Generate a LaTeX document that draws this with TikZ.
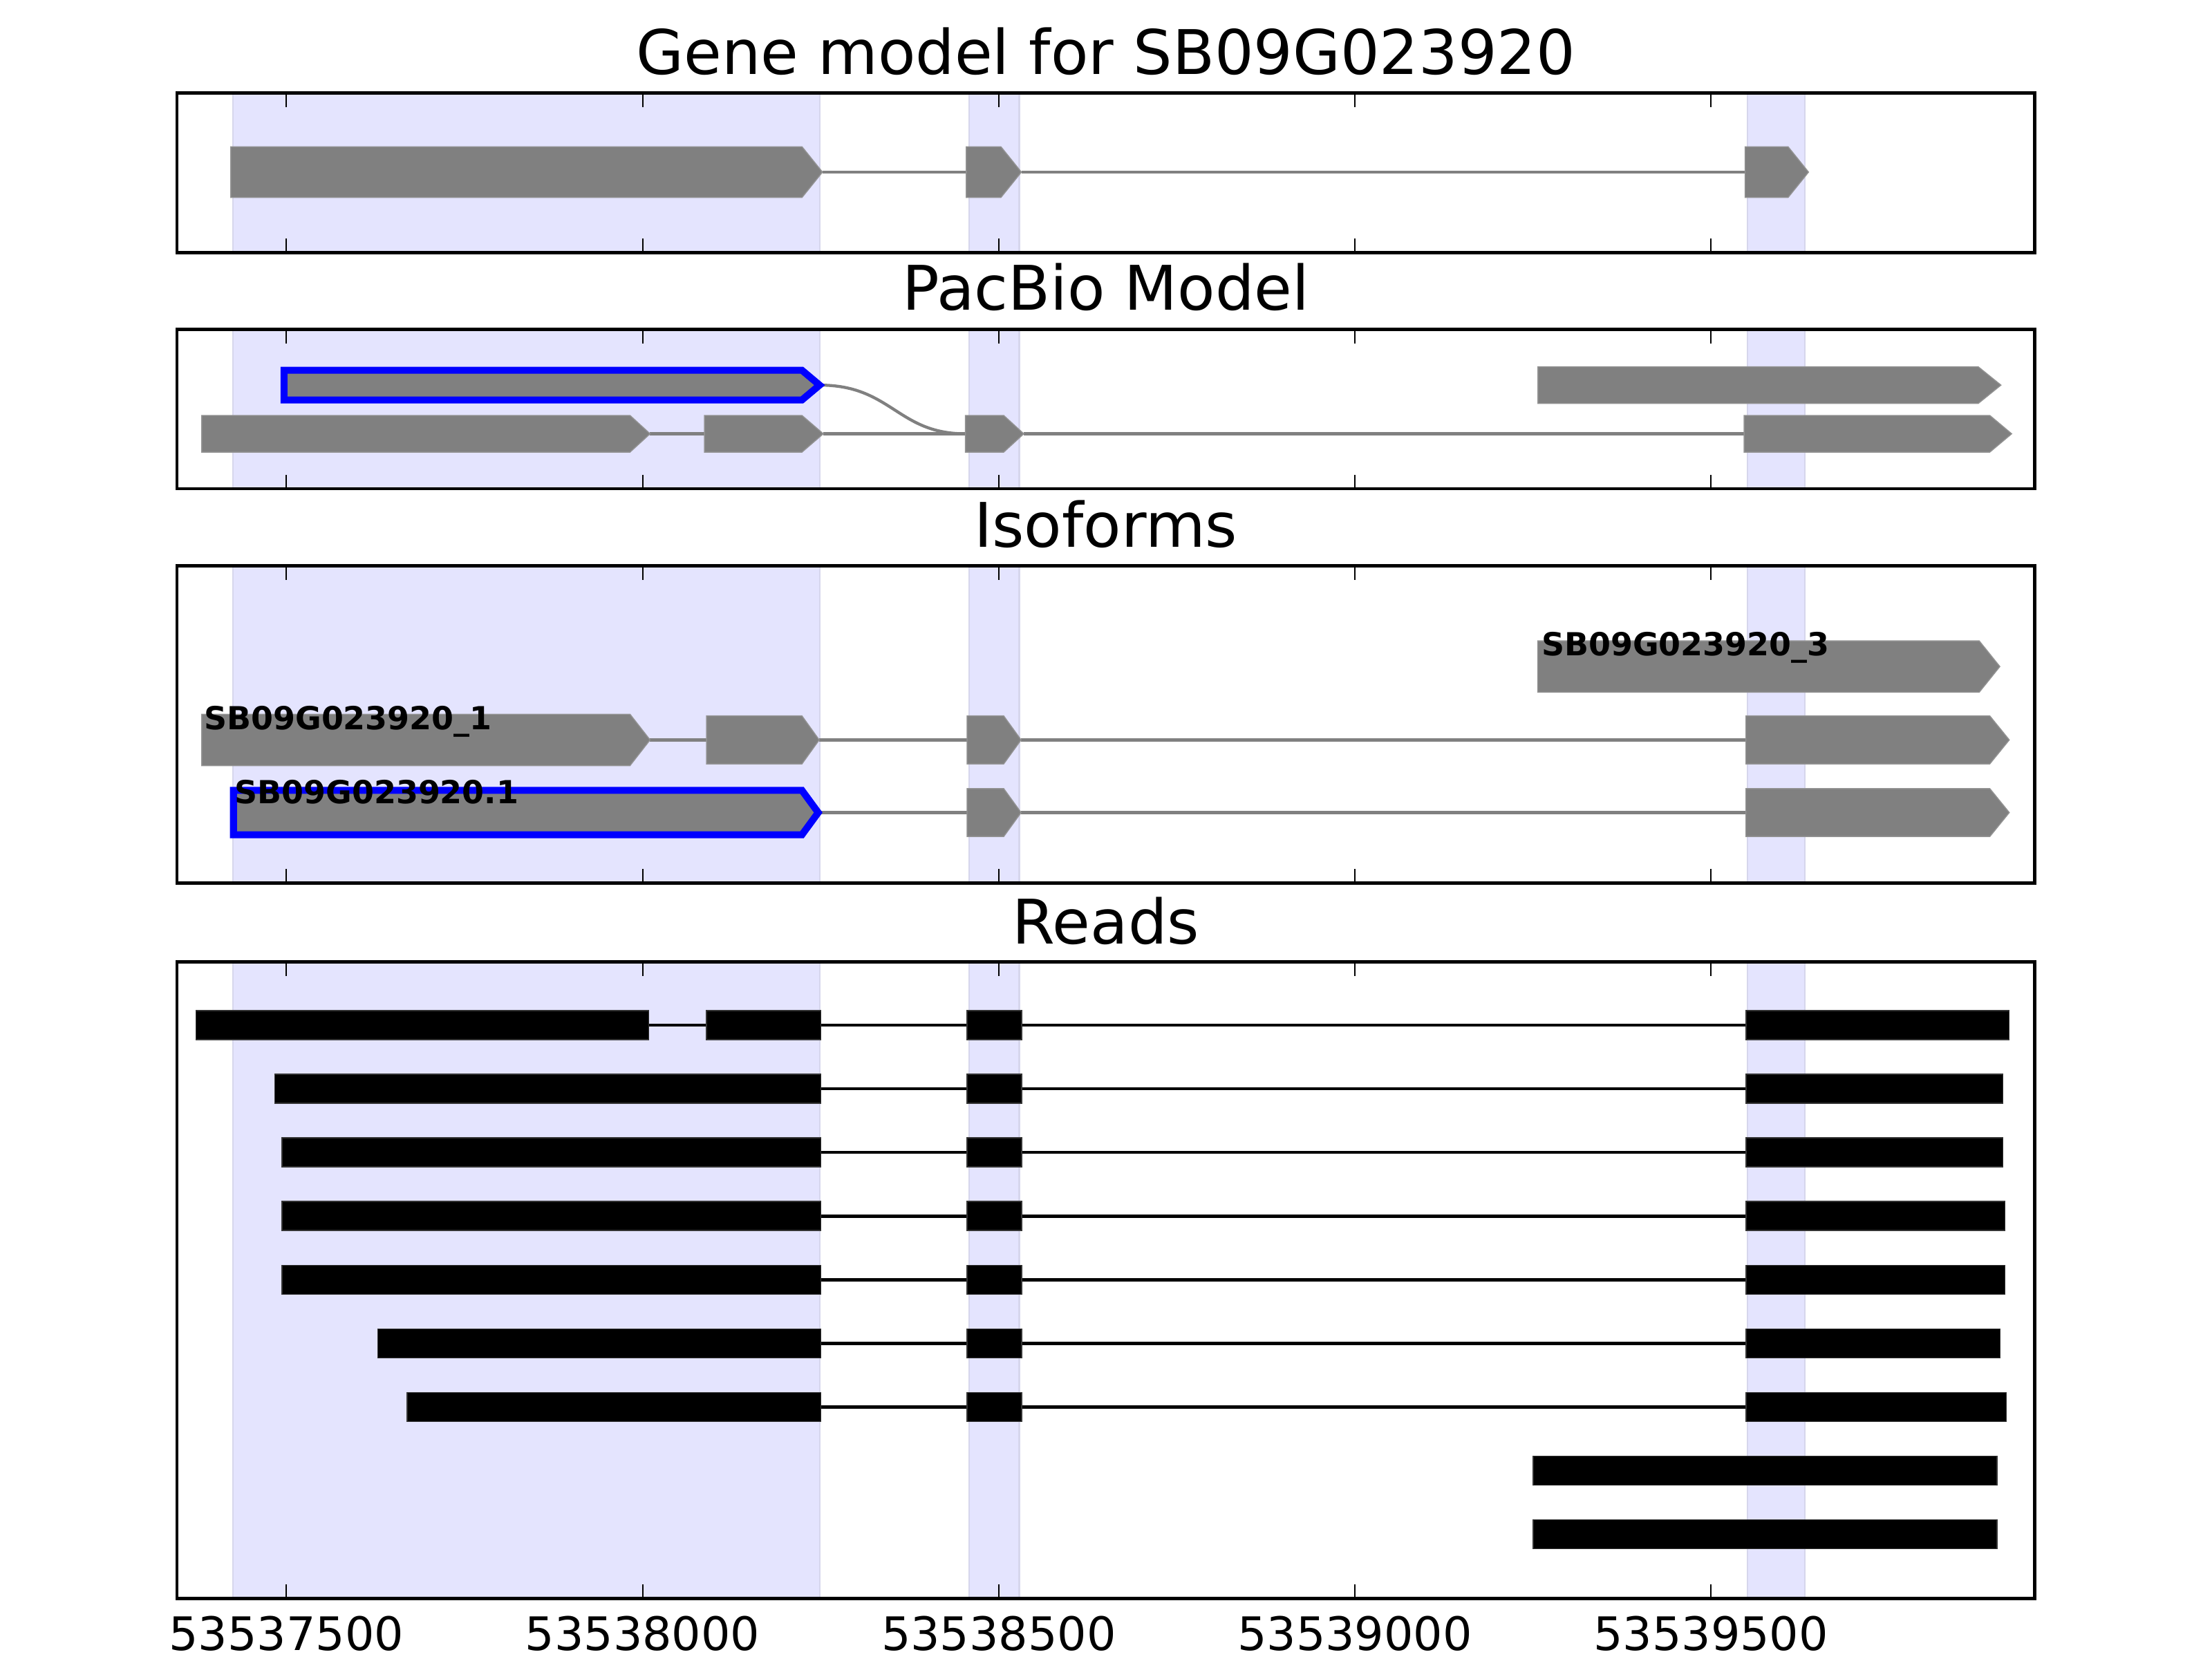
\documentclass[tikz,border=0pt]{standalone}
\usepackage{fontspec}
\setmainfont{DejaVu Sans}

\definecolor{bandblue}{RGB}{228,228,254}
\definecolor{bandedge}{RGB}{214,214,236}
\definecolor{exongray}{RGB}{128,128,128}
\definecolor{isoblue}{RGB}{0,0,255}

\tikzset{
  frame/.style={line width=0.65pt},
  tickmark/.style={line width=0.3pt},
  band/.style={fill=bandblue, draw=bandedge, line width=0.3pt},
  exon/.style={fill=exongray, draw=exongray!85!white, line width=0.2pt},
  intron/.style={draw=exongray, line width=0.6pt},
  picked/.style={draw=isoblue, line width=1.4pt},
  readbar/.style={fill=black, draw=black!80!white, line width=0.2pt},
  readline/.style={line width=0.65pt},
  paneltitle/.style={font=\fontsize{12.4}{14}\selectfont, anchor=base, inner sep=0pt},
  ticklabel/.style={font=\fontsize{9.3}{11}\selectfont, anchor=base, inner sep=0pt},
  isolabel/.style={font=\fontsize{6.4}{8}\selectfont\bfseries, anchor=base west, inner sep=0pt}
}

% arrow shaped exon: [opts]{left}{body end}{tip}{y}{half height}
\newcommand{\exonarrow}[6][]{%
  \filldraw[exon,#1] (#2,#5-#6) -- (#3,#5-#6) -- (#4,#5) -- (#3,#5+#6) -- (#2,#5+#6) -- cycle;}

% shaded exon regions of one panel: {top}{bottom}
\newcommand{\panelbands}[2]{%
  \foreach \bl/\br in {165/581,687/722.5,1238.8/1279.3}
    \filldraw[band] (\bl,#1) rectangle (\br,#2);}

% axes box with inward ticks: {top}{bottom}
\newcommand{\panelframe}[2]{%
  \foreach \tx in {203,455.5,708,960.4,1212.8}{
    \draw[tickmark] (\tx,#1) -- ++(0,10);
    \draw[tickmark] (\tx,#2) -- ++(0,-10);}
  \draw[frame] (125.5,#1) rectangle (1442.3,#2);}

\begin{document}
\begin{tikzpicture}[x=0.01cm, y=-0.01cm]
  \useasboundingbox (0,0) rectangle (1568,1176);

  % gene model
  \node[paneltitle] (title-gene) at (783.9,52.8) {Gene model for SB09G023920};
  \panelbands{66}{179}
  \draw[intron] (583,122) -- (685,122);
  \draw[intron] (724,122) -- (1237,122);
  \exonarrow{163.6}{568.5}{583}{122}{18}
  \exonarrow{685}{709.5}{724}{122}{18}
  \exonarrow{1237}{1267.5}{1282}{122}{18}
  \panelframe{66}{179}

  % pacbio model
  \node[paneltitle] (title-pacbio) at (783.9,220) {PacBio Model};
  \panelbands{233.6}{346.5}
  \draw[intron] (460.8,307.5) -- (499.4,307.5);
  \draw[intron] (583.6,307.5) -- (684.3,307.5);
  \draw[intron] (725.7,307.5) -- (1236.3,307.5);
  \draw[intron] (581,273) .. controls (632,273) and (636,307.5) .. (684.3,307.5);
  \exonarrow[picked]{201.3}{568.5}{581}{273}{10.5}
  \exonarrow{1090.2}{1402.3}{1418.4}{273}{13}
  \exonarrow{143}{446.6}{460.8}{307.5}{13}
  \exonarrow{499.4}{568.5}{583.6}{307.5}{13}
  \exonarrow{684.3}{711.5}{725.7}{307.5}{13}
  \exonarrow{1236.3}{1410.5}{1426}{307.5}{13}
  \panelframe{233.6}{346.5}

  % isoforms
  \node[paneltitle] (title-iso) at (783.9,388) {Isoforms};
  \panelbands{401}{626}
  \exonarrow{1090}{1403}{1417.6}{472.5}{18.2}
  \draw[intron] (460.8,524.5) -- (500.8,524.5);
  \draw[intron] (580.7,524.5) -- (685.5,524.5);
  \draw[intron] (723.8,524.5) -- (1237.6,524.5);
  \exonarrow{143}{446.6}{460.8}{524.5}{18.2}
  \exonarrow{500.8}{568.5}{580.7}{524.5}{17}
  \exonarrow{685.5}{711.5}{723.8}{524.5}{17}
  \exonarrow{1237.6}{1410.5}{1424.3}{524.5}{17}
  \draw[intron] (580,576) -- (685.5,576);
  \draw[intron] (723.8,576) -- (1237.6,576);
  \exonarrow[picked]{165.5}{568.5}{580}{576}{15.7}
  \exonarrow{685.5}{711.5}{723.8}{576}{17}
  \exonarrow{1237.6}{1410.5}{1424.3}{576}{17}
  \node[isolabel] (iso-3) at (1092,464.6) {SB09G023920\_3};
  \node[isolabel] (iso-1) at (144,517) {SB09G023920\_1};
  \node[isolabel] (iso-ref) at (165.6,569.5) {SB09G023920.1};
  \panelframe{401}{626}

  % reads
  \node[paneltitle] (title-reads) at (783.9,669) {Reads};
  \panelbands{682}{1133}
  \draw[readline] (139,726.7) -- (1237.8,726.7);
  \filldraw[readbar] (139,716.4) rectangle (460,737);
  \filldraw[readbar] (500.8,716.4) rectangle (582,737);
  \filldraw[readbar] (685.6,716.4) rectangle (724.3,737);
  \filldraw[readbar] (1237.8,716.4) rectangle (1424.3,737);
  \foreach \ry/\ra/\rb in {771.8/194.8/1419.7, 816.9/200/1419.7, 862/200/1421.2,
                           907.2/200/1421.2, 952.3/267.9/1417.8, 997.4/288.6/1422.2}{
    \draw[readline] (582,\ry) -- (1237.8,\ry);
    \filldraw[readbar] (\ra,\ry-10.3) rectangle (582,\ry+10.3);
    \filldraw[readbar] (685.6,\ry-10.3) rectangle (724.3,\ry+10.3);
    \filldraw[readbar] (1237.8,\ry-10.3) rectangle (\rb,\ry+10.3);
  }
  \filldraw[readbar] (1086.8,1032.2) rectangle (1415.7,1052.8);
  \filldraw[readbar] (1086.8,1077.3) rectangle (1415.7,1097.9);
  \panelframe{682}{1133}

  % position axis
  \foreach \tx/\tl in {203/53537500,455.5/53538000,708/53538500,960.4/53539000,1212.8/53539500}
    \node[ticklabel] (pos-\tl) at (\tx,1170) {\tl};
\end{tikzpicture}
\end{document}
